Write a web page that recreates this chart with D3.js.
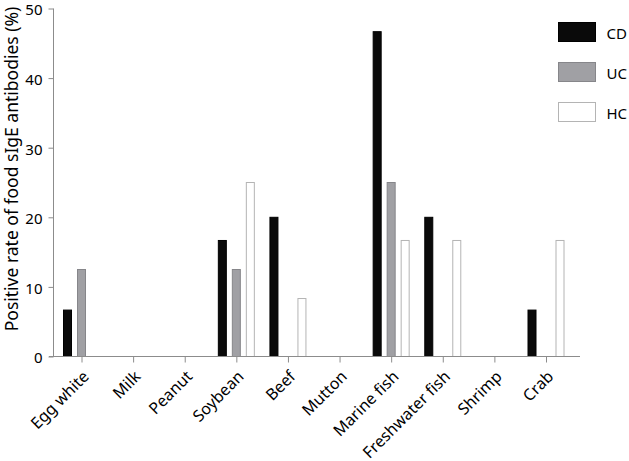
<!DOCTYPE html>
<html>
<head>
<meta charset="utf-8">
<script src="https://cdn.jsdelivr.net/npm/d3@7"></script>
<style>
  html, body { margin: 0; padding: 0; background: #fff; }
  svg { display: block; }
  text { font-family: "Noto Sans", "DejaVu Sans", sans-serif; fill: #000; }
</style>
</head>
<body>
<svg id="chart" width="629" height="461"></svg>
<script>
const categories = ["Egg white", "Milk", "Peanut", "Soybean", "Beef", "Mutton", "Marine fish", "Freshwater fish", "Shrimp", "Crab"];
const seriesNames = ["CD", "UC", "HC"];
const CD = [6.67, 0, 0, 16.67, 20, 0, 46.67, 20, 0, 6.67];
const UC = [12.5, 0, 0, 12.5, 0, 0, 25, 0, 0, 0];
const HC = [0, 0, 0, 25, 8.33, 0, 16.67, 16.67, 0, 16.67];
const yTicks = [0, 10, 20, 30, 40, 50];
const yTitle = "Positive rate of food sIgE antibodies (%)";

const seriesValues = { CD, UC, HC };
const fills = { CD: "#0a0a0a", UC: "#a0a0a4", HC: "#ffffff" };
const strokes = { CD: "#000000", UC: "#86868a", HC: "#b4b4b4" };
const axisColor = "#8c8c8c";

const svg = d3.select("#chart");

const y = d3.scaleLinear().domain([0, 50]).range([356.5, 8.5]);
const x = d3.scalePoint().domain(categories).range([81.5, 546]);
const xs = d3.scalePoint().domain(seriesNames).range([-14, 14]);
const barW = 9;

// bars
const rows = [];
categories.forEach((c, i) => {
  seriesNames.forEach(s => {
    rows.push({ cat: c, s, v: seriesValues[s][i] });
  });
});

svg.append("g").selectAll("rect")
  .data(rows.filter(d => d.v > 0))
  .join("rect")
  .attr("x", d => x(d.cat) + xs(d.s) - barW / 2 + 0.5)
  .attr("y", d => y(d.v))
  .attr("width", barW - 1)
  .attr("height", d => y(0) - y(d.v))
  .attr("fill", d => fills[d.s])
  .attr("stroke", d => strokes[d.s])
  .attr("stroke-width", 1);

// y axis
const yAxis = svg.append("g")
  .attr("transform", "translate(53.5,0)")
  .call(d3.axisLeft(y).tickValues(yTicks).tickSize(5).tickPadding(6).tickFormat(d3.format("d")));
yAxis.select(".domain").attr("stroke", axisColor).attr("d", `M0,${y(50)}V${y(0)}`);
yAxis.selectAll(".tick line").attr("stroke", axisColor);
yAxis.selectAll(".tick text").style("font-size", "15px").attr("dy", "0.42em").attr("fill", "#000");

// x axis
const xAxis = svg.append("g")
  .attr("transform", `translate(0,${y(0)})`)
  .call(d3.axisBottom(x).tickSize(6).tickPadding(4));
xAxis.select(".domain").attr("stroke", axisColor).attr("d", "M49,0H580");
xAxis.selectAll(".tick line").attr("stroke", axisColor);
xAxis.selectAll(".tick text")
  .style("font-size", "16px")
  .attr("text-anchor", "end")
  .attr("transform", "translate(8,21) rotate(-45)")
  .attr("dy", "0")
  .attr("y", 0)
  .attr("x", 0);

// y title
svg.append("text")
  .attr("transform", "translate(17.5,169) rotate(-90)")
  .attr("text-anchor", "middle")
  .style("font-size", "17.5px")
  .text(yTitle);

// legend
const legend = svg.append("g").selectAll("g")
  .data(seriesNames)
  .join("g")
  .attr("transform", (d, i) => `translate(558.5,${22.5 + i * 40})`);
legend.append("rect")
  .attr("width", 37).attr("height", 19)
  .attr("fill", d => fills[d])
  .attr("stroke", d => strokes[d]);
legend.append("text")
  .attr("x", 48).attr("y", 11.5)
  .attr("dy", "0.36em")
  .style("font-size", "15px")
  .text(d => d);
</script>
</body>
</html>
